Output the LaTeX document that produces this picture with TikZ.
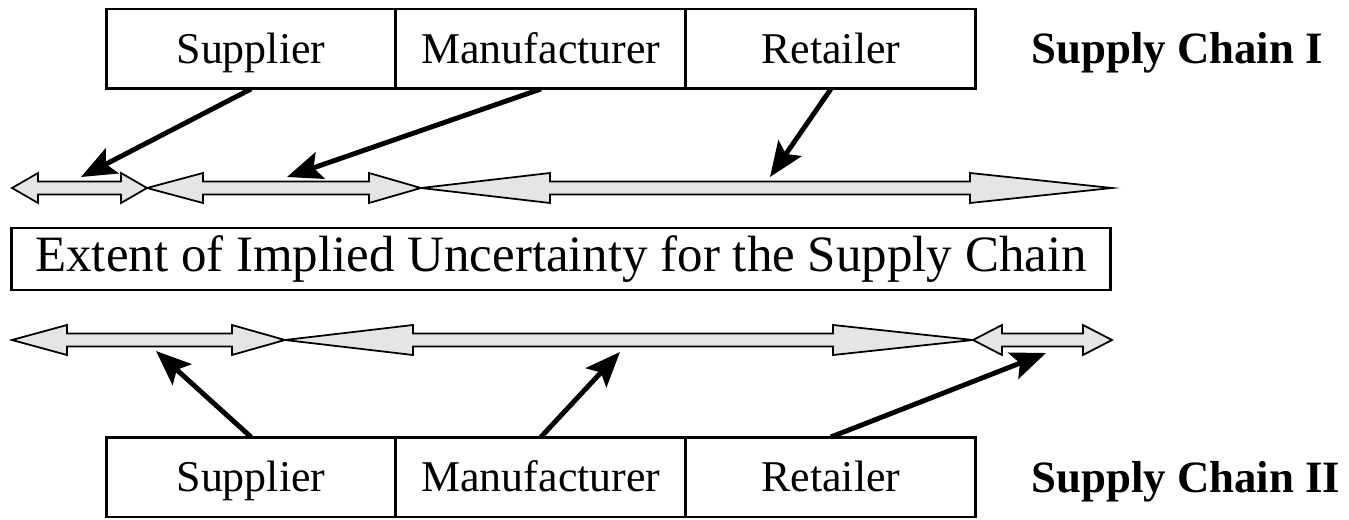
\documentclass[tikz,border=0pt]{standalone}
\usepackage{fontspec}
\setmainfont{Liberation Serif}
\usetikzlibrary{arrows.meta,positioning}

\tikzset{
  stage/.style={draw, line width=1.7pt, minimum width=5.8cm, minimum height=1.6cm,
    text height=0.7cm, text depth=0.1cm,
    inner sep=0pt, outer sep=0pt, font=\fontsize{25}{30}\selectfont},
  chainlabel/.style={anchor=base west, inner sep=0pt, font=\fontsize{25.5}{30}\selectfont\bfseries},
  pointer/.style={line width=2.8pt, -{Stealth[length=0.7cm,width=0.56cm,inset=0.14cm]}},
  span/.style={draw, line width=1pt, fill=gray!20, line join=miter},
}

% span arrow: y, left tip, left head base, right head base, right tip
\newcommand{\spanarrow}[5]{%
  \draw [span] (#2,#1) -- (#3,#1-15) -- (#3,#1-6.5) -- (#4,#1-6.5) -- (#4,#1-15)
    -- (#5,#1) -- (#4,#1+15) -- (#4,#1+6.5) -- (#3,#1+6.5) -- (#3,#1+15) -- cycle;}

\begin{document}
\begin{tikzpicture}[x=0.02cm, y=-0.02cm]
\useasboundingbox (0,0) rectangle (1349,520);

% supply chain I
\node [stage] (sup1) at (251,49) {Supplier};
\node [stage, right=0pt of sup1] (man1) {Manufacturer};
\node [stage, right=0pt of man1] (ret1) {Retailer};
\node [chainlabel] (lab1) at (1031,64) {Supply Chain I};

% uncertainty spans, upper row
\spanarrow{188}{12}{38}{121}{147}
\spanarrow{188}{147}{203}{369}{421}
\spanarrow{188}{421}{550}{970}{1112}
\coordinate (u1) at (81,177);
\coordinate (u2) at (287,177);
\coordinate (u3) at (770,177);
\draw [pointer] (sup1.south) -- (u1);
\draw [pointer] (man1.south) -- (u2);
\draw [pointer] (ret1.south) -- (u3);

\node [draw, line width=1.7pt, minimum width=22cm, minimum height=1.24cm,
  font=\fontsize{29}{34}\selectfont] (extent) at (561,259)
  {Extent of Implied Uncertainty for the Supply Chain};

% uncertainty spans, lower row
\spanarrow{340}{12}{67}{232}{285}
\spanarrow{340}{285}{413}{833}{973}
\spanarrow{340}{973}{1002}{1083}{1112}
\coordinate (l1) at (156,351);
\coordinate (l2) at (620,352);
\coordinate (l3) at (1046,353);

% supply chain II
\node [stage] (sup2) at (251,477) {Supplier};
\node [stage, right=0pt of sup2] (man2) {Manufacturer};
\node [stage, right=0pt of man2] (ret2) {Retailer};
\node [chainlabel] (lab2) at (1031,492) {Supply Chain II};
\draw [pointer] (sup2.north) -- (l1);
\draw [pointer] (man2.north) -- (l2);
\draw [pointer] (ret2.north) -- (l3);
\end{tikzpicture}
\end{document}
